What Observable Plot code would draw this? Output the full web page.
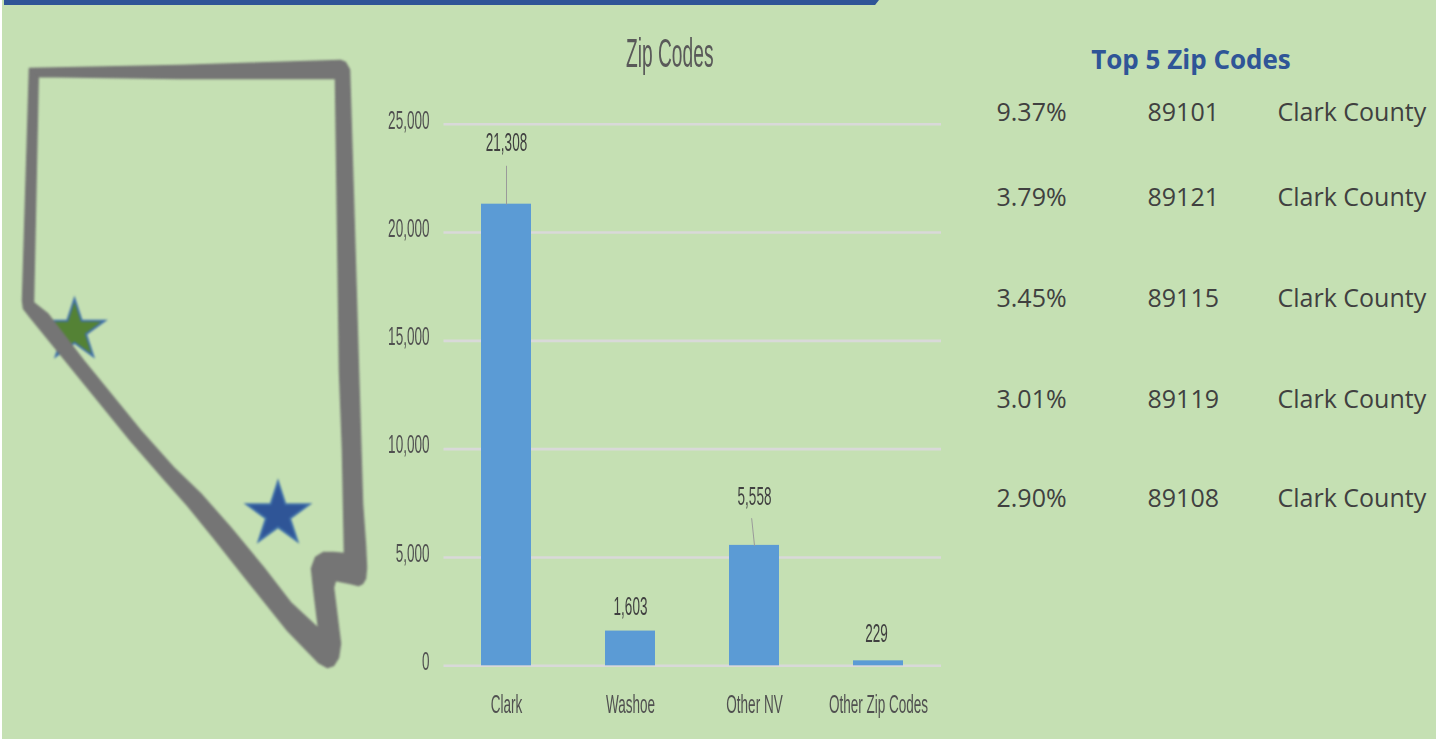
<!DOCTYPE html>
<html><head><meta charset="utf-8">
<script src="https://cdn.jsdelivr.net/npm/d3@7"></script>
<script src="https://cdn.jsdelivr.net/npm/@observablehq/plot@0.6"></script>
<style>
html,body{margin:0;padding:0;background:#fff;}
#page{position:relative;width:1442px;height:740px;overflow:hidden;background:#fff;}
#panel{position:absolute;left:2px;top:0;width:1434px;height:738.5px;background:#c5e0b3;}
#bar{position:absolute;left:4px;top:0;width:875px;height:5px;background:#2f5597;clip-path:polygon(0 0,100% 0,99.55% 100%,0 100%);}
#page svg{position:absolute;left:0;top:0;background:transparent;overflow:visible;}
#map svg{filter:blur(0.8px);}
#bars svg{filter:blur(0.45px);}
</style></head><body>
<div id="page"><div id="panel"></div><div id="bar"></div><div id="map"></div><div id="bars"></div><div id="table"></div></div>
<script>
// Chart data
const categories = ["Clark", "Washoe", "Other NV", "Other Zip Codes"];
const counts = [21308, 1603, 5558, 229];
const yTicks = [0, 5000, 10000, 15000, 20000, 25000];
const chartTitle = "Zip Codes";

const tableTitle = "Top 5 Zip Codes";
const shares = ["9.37%", "3.79%", "3.45%", "3.01%", "2.90%"];
const zips = ["89101", "89121", "89115", "89119", "89108"];
const counties = ["Clark County", "Clark County", "Clark County", "Clark County", "Clark County"];

// State outline, in map units
const outlineX = [29,180,340,345,349,353,358,362,365,366,365,362,358,350,335,333,338,340,338,333,327,318,287,247,213,187,163,130,30,23,22,29,
  37.7,33,47,83,140,173,200,230,263,290,318,313,311,315,323,333,344,342,339,335,180,37.7,29];
const outlineY = [68,65,60,62,69,200,370,503,545,567,578,583,585,583,580,587,627,643,657,665,667,662,630,580,537,505,478,440,317,308,300,68,
  76,302,313,360,430,467,493,527,567,602,628,587,568,557,552,552,553,450,370,78,78,76,68];
const sites = ["Washoe", "Clark"];
const siteX = [74, 277.5];
const siteY = [330, 514];

const grey = "#595959";
const squish = (svg, small, large) => d3.select(svg).selectAll("text").each(function () {
  const len = this.getComputedTextLength();
  const k = parseFloat(getComputedStyle(this).fontSize) >= 30 ? large : small;
  if (len > 0) { this.setAttribute("textLength", (len * k).toFixed(1)); this.setAttribute("lengthAdjust", "spacingAndGlyphs"); }
});

// Map
const outline = outlineX.map((x, i) => ({x, y: outlineY[i]}));
const stars = sites.map((name, i) => ({name, x: siteX[i], y: siteY[i]}));
const map = Plot.plot({
  width: 1442, height: 740, margin: 0,
  x: {domain: [0, 1442], axis: null},
  y: {domain: [740, 0], axis: null},
  color: {domain: sites, range: ["#548235", "#2f5597"]},
  marks: [
    Plot.dot(stars.slice(0, 1), {x: "x", y: "y", symbol: "star", r: 19, fill: "name", stroke: "#3f6fa8", strokeWidth: 2, strokeLinejoin: "miter", strokeMiterlimit: 8}),
    Plot.dot(stars.slice(1), {x: "x", y: "y", symbol: "star", r: 19.7, fill: "name", stroke: "#3f6fa8", strokeWidth: 2, strokeLinejoin: "miter", strokeMiterlimit: 8}),
    Plot.line(outline, {x: "x", y: "y", fill: "#757575", stroke: "#757575", strokeWidth: 1.5, strokeLinejoin: "round"})
  ]
});
document.getElementById("map").append(map);

// Bars
const rows = categories.map((c, i) => ({c, v: counts[i]}));
const fmt = d3.format(",");
const note = (i, dy, dx = 0) => Plot.text([rows[i]], {x: "c", y: "v", text: d => fmt(d.v), dy, dx, fontSize: 26, fill: "#404040"});
const leader = (i, length, rotate) => Plot.vector([rows[i]], {
  x: "c", y: "v", length, rotate, anchor: "start", stroke: "#9a9a9a", strokeWidth: 1,
  shape: {draw(ctx, l) { ctx.moveTo(0, 0); ctx.lineTo(0, -l); }}
});
const bars = Plot.plot({
  width: 1442, height: 740,
  marginLeft: 443.5, marginRight: 501, marginTop: 123.7, marginBottom: 74.7,
  style: {fontFamily: "'Liberation Sans Narrow','Liberation Sans',sans-serif"},
  x: {domain: categories, paddingInner: 0.6, paddingOuter: 0.3, label: null},
  y: {domain: [0, 25000], label: null},
  marks: [
    Plot.ruleY(yTicks, {stroke: "#d9d9d9", strokeWidth: 2.6}),
    Plot.barY(rows, {x: "c", y: "v", fill: "#5b9bd5"}),
    leader(0, 38, 0),
    leader(2, 27, -6),
    note(0, -62),
    note(1, -24),
    note(2, -49),
    note(3, -27, -2),
    Plot.axisY({ticks: yTicks, tickSize: 0, tickPadding: 14.5, tickFormat: fmt, fontSize: 26, fill: "#505050", dy: -4, label: null}),
    Plot.axisX({tickSize: 0, tickPadding: 39, fontSize: 26, fill: "#505050", label: null, lineAnchor: "middle"}),
    Plot.text([chartTitle], {frameAnchor: "top", dy: -86, dx: -23, fontSize: 40, fill: grey})
  ]
});
document.getElementById("bars").append(bars);
squish(bars, 0.52, 0.48);

// Table
const table = shares.map((s, i) => ({s, z: zips[i], c: counties[i]}));
const tablePlot = Plot.plot({
  width: 1442, height: 740, margin: 0,
  style: {fontFamily: "'Open Sans',sans-serif"},
  x: {domain: [0, 1442], axis: null},
  y: {type: "ordinal", domain: zips, range: [112, 197, 298, 399, 498], axis: null},
  marks: [
    Plot.text(table, {x: () => 996, y: "z", text: "s", textAnchor: "start", fontSize: 25, fill: "#404040"}),
    Plot.text(table, {x: () => 1147, y: "z", text: "z", textAnchor: "start", fontSize: 25, fill: "#404040"}),
    Plot.text(table, {x: () => 1277, y: "z", text: "c", textAnchor: "start", fontSize: 25, fill: "#404040"}),
    Plot.text([tableTitle], {x: () => 1190.5, frameAnchor: "top", dy: 50, text: d => d, fontSize: 26, fontWeight: "bold", fill: "#2f5597"})
  ]
});
document.getElementById("table").append(tablePlot);
</script>
</body></html>
